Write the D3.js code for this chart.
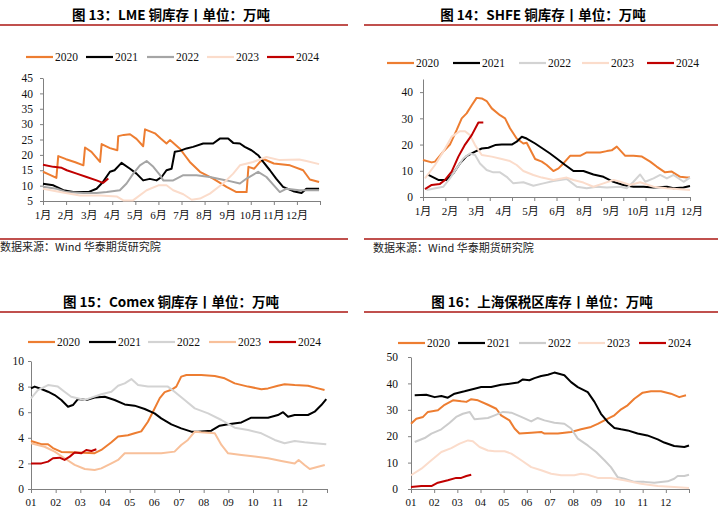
<!DOCTYPE html>
<html><head><meta charset="utf-8">
<script src="https://cdn.jsdelivr.net/npm/d3@7/dist/d3.min.js"></script>
<style>body{margin:0;background:#fff}</style>
</head><body><svg id="c" width="718" height="509"></svg>
<script>
// ---------- DATA ----------
const years = ["2020","2021","2022","2023","2024"];
const monthsCN = ["1月","2月","3月","4月","5月","6月","7月","8月","9月","10月","11月","12月"];
const shfeLabels = ["1月","2月","3月","4月","5月","6月","8月","9月","10月","11月","12月"];
const monthsNum = ["01","02","03","04","05","06","07","08","09","10","11","12"];

const lmeTicks = [5,10,15,20,25,30,35,40,45];
const shfeTicks = [0,10,20,30,40];
const comexTicks = [0,2,4,6,8,10];
const bondedTicks = [0,10,20,30,40,50];

// [month (0 = start of Jan), value in 万吨]
const lme2020 = [[0,14.5],[0.3,13.5],[0.58,12.5],[0.66,19.6],[1.0,18.6],[1.4,17.6],[1.75,16.6],[1.82,22.4],[2.1,21],[2.47,17.7],[2.54,23.5],[2.9,22.2],[3.22,21.5],[3.26,26.1],[3.5,26.5],[3.77,26.7],[4.05,25.2],[4.34,22.8],[4.42,28.3],[4.85,27],[5.1,25.3],[5.35,23.7],[5.5,24.8],[5.93,22],[6.15,19.8],[6.36,17.7],[6.8,14.5],[7.37,12.3],[7.95,9.6],[8.38,7.9],[8.82,7.9],[8.9,16.1],[9.15,15.5],[9.4,17.7],[9.6,18.5],[10,17.2],[10.7,16.6],[11.27,15],[11.56,12],[11.96,11.2]];
const lme2021 = [[0,10.6],[0.45,10.1],[0.88,8.5],[1.31,7.9],[1.96,7.9],[2.32,9],[2.6,11.2],[2.9,14.5],[3.1,15],[3.4,17.4],[3.77,15.5],[4.05,13.9],[4.34,11.7],[4.63,12.2],[4.92,11.7],[5.14,12.8],[5.35,15],[5.57,15.5],[5.71,21],[5.93,21.3],[6.22,22.1],[6.5,22.6],[6.94,23.7],[7.37,23.7],[7.66,25.3],[8.02,25.3],[8.24,23.9],[8.53,23.7],[8.74,22.6],[9.03,21.5],[9.32,19.9],[9.54,17.7],[9.83,15],[10.1,12.3],[10.4,9.6],[10.84,8.2],[11.2,7.6],[11.41,9],[11.96,9]];
const lme2022 = [[0,9.6],[0.59,9],[1.02,7.9],[1.75,7.6],[2.32,7.6],[2.76,7.9],[3.33,8.5],[3.62,10.7],[3.91,13.9],[4.2,16.6],[4.49,18],[4.78,16.1],[5.07,13.4],[5.21,11.7],[5.64,11.7],[6.08,13.4],[6.65,13.4],[7.23,12.8],[7.95,11.7],[8.53,10.7],[8.82,12.3],[9.32,14.5],[9.68,12.8],[10,10.1],[10.26,7.9],[10.55,9],[11.1,8.5],[11.96,8.5]];
const lme2023 = [[0,9],[0.74,7.9],[1.6,6.8],[2.47,6.8],[3.19,6.5],[3.48,5.2],[3.9,5.2],[4.49,8.5],[5.0,10.1],[5.35,10.1],[5.64,8.5],[6.08,7.2],[6.44,5.4],[6.8,5.8],[7.23,7.4],[7.8,10.7],[8.24,13.9],[8.53,16.6],[9.1,17.7],[9.68,19.3],[10.26,18.3],[11.1,18.5],[11.41,18],[11.96,17]];
const lme2024 = [[0,16.8],[0.45,16.1],[0.81,15.8],[1.03,15],[1.46,13.9],[1.89,12.8],[2.32,11.7],[2.6,10.9],[2.83,12.3]];

const shfe2020 = [[0,14.1],[0.39,13.2],[0.54,13.5],[0.91,17.3],[1.21,20],[1.51,25.5],[1.74,30],[1.96,31.9],[2.19,35],[2.41,37.8],[2.64,37.6],[2.86,36.6],[3.09,33.8],[3.46,31.2],[3.69,30],[3.91,26.2],[4.21,22.3],[4.51,20.4],[4.66,20.7],[5.04,14.5],[5.34,13.5],[5.56,12.2],[5.86,9.9],[6.09,10.9],[6.31,12.8],[6.61,15.7],[7.06,15.7],[7.36,17],[7.96,17],[8.26,17.5],[8.48,17.8],[8.71,19.2],[9.09,15.7],[9.46,15.7],[9.84,15.4],[10.21,13.5],[10.5,11.6],[10.88,9.4],[11.18,9.7],[11.56,7.7],[11.86,7.4],[12,7.4]];
const shfe2021 = [[0.24,8.4],[0.69,6.5],[1.06,6.5],[1.36,9],[1.66,12.8],[1.96,15.6],[2.34,17.3],[2.64,18.5],[2.94,18.8],[3.24,19.8],[3.54,20],[3.99,20],[4.21,21.1],[4.44,23],[4.66,22.3],[5.04,20.4],[5.41,18.3],[5.71,16.6],[6.01,14.7],[6.39,12.2],[6.76,9.9],[7.21,9.9],[7.66,8.6],[8.11,7.7],[8.56,5.8],[9.01,4.6],[9.46,3.9],[9.91,3.9],[10.36,3.6],[10.96,3.9],[11.26,3.3],[11.71,3.6],[12,4.2]];
const shfe2022 = [[0.16,2.7],[0.91,3.9],[1.21,7.1],[1.51,10.9],[1.81,14.7],[2.11,16.6],[2.34,16],[2.56,12.8],[2.86,10.3],[3.16,9.4],[3.46,9.4],[3.76,7.7],[4.06,5.2],[4.51,5.6],[4.96,4.3],[5.41,5.2],[5.86,6.1],[6.46,6.9],[6.91,3.9],[7.36,3.3],[7.81,3.9],[8.26,3.6],[8.86,3.9],[9.16,3.3],[9.46,5.8],[9.76,8.6],[9.99,5.8],[10.36,7.1],[10.66,8.4],[10.96,7.1],[11.26,8.4],[11.71,5.8],[12,7.4]];
const shfe2023 = [[0.09,7.1],[0.54,12.2],[0.91,17.3],[1.29,23],[1.66,25.1],[1.89,25.1],[2.11,23.6],[2.34,19.8],[2.64,16],[3.09,15.4],[3.54,14.5],[3.91,13.7],[4.21,12.2],[4.51,9.9],[4.96,8.4],[5.34,7.4],[5.86,6.5],[6.46,7.4],[6.76,6.5],[7.21,5.5],[7.66,3.9],[8.11,5.2],[8.56,6.5],[8.86,5.8],[9.31,4.6],[9.76,5.6],[10.36,3.9],[10.96,3.3],[11.56,3],[12,2.7]];
const shfe2024 = [[0.09,3],[0.39,4.6],[0.76,5],[0.99,6.5],[1.29,9.7],[1.59,15.4],[1.89,20],[2.19,23.6],[2.49,28.4],[2.71,28.4]];

const comex2020 = [[0,3.75],[0.42,3.5],[0.69,3.5],[0.89,3.2],[1.23,2.9],[1.9,2.86],[2.58,2.8],[2.85,3.05],[3.26,3.65],[3.53,4.1],[3.93,4.2],[4.2,4.35],[4.47,4.5],[4.74,5.25],[4.95,6.05],[5.22,7.1],[5.42,7.57],[5.69,7.75],[5.89,8.0],[6.09,8.78],[6.3,8.9],[6.9,8.9],[7.45,8.83],[7.85,8.65],[8.26,8.25],[8.8,8],[9.34,7.8],[9.61,7.86],[10.01,8.07],[10.28,8.18],[10.69,8.12],[11.23,8.07],[11.64,7.86],[11.9,7.73]];
const comex2021 = [[0,7.86],[0.15,8],[0.42,7.81],[0.69,7.6],[0.96,7.34],[1.23,6.95],[1.5,6.43],[1.7,6.56],[1.9,7.03],[2.24,6.95],[2.58,7.14],[2.99,7.21],[3.39,6.95],[3.8,6.61],[4.2,6.51],[4.61,6.25],[5.01,5.91],[5.28,5.52],[5.69,5.05],[6.09,4.74],[6.5,4.48],[6.77,4.48],[7.31,4.56],[7.65,4.95],[7.99,5.05],[8.53,5.2],[8.93,5.57],[9.61,5.57],[10.01,5.78],[10.22,6],[10.42,5.65],[10.69,5.78],[11.23,5.78],[11.5,6.04],[11.77,6.56],[11.97,7.03]];
const comex2022 = [[0,7.08],[0.28,7.73],[0.69,8.12],[1.09,8],[1.36,7.6],[1.63,7.21],[2.18,6.95],[2.45,7.14],[2.85,7.4],[3.26,7.6],[3.53,8.07],[3.8,8.25],[4.07,8.59],[4.34,8.12],[4.74,8],[5.28,8],[5.55,8],[5.82,7.6],[6.23,6.95],[6.64,6.3],[7.18,5.91],[7.72,5.39],[8.26,4.79],[8.8,4.61],[9.34,4.35],[9.88,3.83],[10.28,3.57],[10.69,3.75],[11.09,3.65],[11.5,3.57],[11.97,3.49]];
const comex2023 = [[0,3.57],[0.55,3.3],[0.96,2.92],[1.36,2.4],[1.77,1.88],[2.18,1.56],[2.58,1.48],[2.85,1.61],[3.26,2],[3.53,2.27],[3.8,2.79],[4.2,2.79],[4.74,2.79],[5.28,2.79],[5.82,2.92],[6.09,3.44],[6.36,3.83],[6.64,4.48],[6.9,4.43],[7.45,4.35],[7.72,3.44],[7.99,2.79],[8.53,2.66],[9.07,2.53],[9.61,2.4],[10.15,2.19],[10.69,2],[10.85,2.27],[11.09,1.88],[11.3,1.56],[11.64,1.74],[11.91,1.88]];
const comex2024 = [[0,2],[0.42,2],[0.69,2.14],[0.89,2.4],[1.16,2.45],[1.36,2.27],[1.57,2.53],[1.77,2.86],[2.04,2.79],[2.24,3.05],[2.45,2.97],[2.65,3.1]];

const bonded2020 = [[0,24.7],[0.23,26.6],[0.52,27.3],[0.73,29.2],[1.16,29.8],[1.45,31.9],[1.81,33.6],[2.17,33.2],[2.39,33],[2.6,34],[2.89,33.6],[3.32,31.9],[3.68,30.4],[3.89,27.9],[4.25,26],[4.47,22.9],[4.68,21],[5.19,21.3],[5.62,21.6],[5.76,21],[6.34,21],[6.91,21.6],[7.34,22.6],[7.77,23.5],[8.06,24.7],[8.35,26],[8.78,27.9],[9.07,30.2],[9.35,31.7],[9.64,34.2],[10,36.5],[10.36,37],[10.79,37],[11.22,36.1],[11.58,34.8],[11.87,35.5]];
const bonded2021 = [[0.16,35.5],[0.66,35.7],[1.02,34.8],[1.31,35.2],[1.59,34.6],[1.88,36.1],[2.31,37],[2.74,38],[3.03,38.6],[3.46,38.6],[3.89,39.5],[4.18,39.8],[4.61,40.3],[4.83,41.5],[5.11,41.2],[5.33,42],[5.62,42.8],[5.91,43.3],[6.19,44.1],[6.62,43.1],[6.91,40.5],[7.2,38.6],[7.63,36.7],[7.92,33],[8.2,28.5],[8.49,25.4],[8.78,23.1],[9.07,22.6],[9.35,22.2],[9.78,21],[10.2,20.3],[10.65,18.8],[10.93,17.6],[11.36,16.3],[11.8,15.9],[12,16.5]];
const bonded2022 = [[0.16,17.8],[0.59,19.3],[0.88,21],[1.31,22.6],[1.67,25.1],[1.95,27.3],[2.24,28.5],[2.53,29.2],[2.74,26.4],[3.32,26.9],[3.61,27.9],[3.97,29.2],[4.33,28.9],[4.76,27.3],[5.19,25.6],[5.47,26.9],[5.76,26],[6.19,25.1],[6.62,24.7],[6.91,22.9],[7.2,19.1],[7.63,16.5],[7.99,14],[8.35,10.9],[8.63,8.3],[8.92,4.5],[9.21,3.9],[9.64,2.7],[10.07,2.7],[10.5,2.4],[11.08,2.9],[11.36,3.9],[11.51,4.9],[11.8,4.9],[12,5.4]];
const bonded2023 = [[0,5.2],[0.45,7.7],[0.88,10.9],[1.31,14],[1.74,15.5],[2.1,17.2],[2.46,18.4],[2.67,18.1],[2.96,15.9],[3.32,14.6],[3.61,14.3],[4.04,14.3],[4.33,13.4],[4.76,10.9],[5.19,8.3],[5.62,7.1],[6.05,5.8],[6.48,5.2],[7.05,5.2],[7.34,5.8],[7.63,5.4],[8.06,4.2],[8.63,4.2],[9.2,3.3],[9.93,2],[10.65,1.1],[11.36,0.8],[12,0.4]];
const bonded2024 = [[0,0.8],[0.45,1.1],[0.88,1.1],[1.16,2.4],[1.59,3.3],[1.95,4.2],[2.17,4.2],[2.39,4.9],[2.6,5.4]];

// ---------- DRAWING ----------
const svg = d3.select("#c");
svg.append("rect").attr("width",718).attr("height",509).attr("fill","#fff");
const RULE = "#C0504D";
const SERIF = "'Liberation Serif','Times New Roman','Noto Sans CJK SC',serif";
const CJK = "'Noto Sans CJK SC','Noto Sans',sans-serif";

function panel(cfg){
  const g = svg.append("g");
  // title
  g.append("text").attr("x",cfg.titleX).attr("y",cfg.titleY).attr("text-anchor","middle")
    .attr("font-family",CJK).attr("font-weight",700).attr("font-size",13.5).attr("fill","#000")
    .text(cfg.title);
  g.append("line").attr("x1",cfg.rule[0]).attr("x2",cfg.rule[1]).attr("y1",cfg.ruleY).attr("y2",cfg.ruleY)
    .attr("stroke",RULE).attr("stroke-width",2);
  // legend
  years.forEach((yr,i)=>{
    const lx = cfg.legendX[i];
    g.append("line").attr("x1",lx).attr("x2",lx+27).attr("y1",cfg.legendY).attr("y2",cfg.legendY)
      .attr("stroke",cfg.colors[i]).attr("stroke-width",2.2);
    g.append("text").attr("x",lx+29).attr("y",cfg.legendY+4).attr("font-family",SERIF)
      .attr("font-size",11.5).attr("fill","#111").text(yr);
  });
  const x = d3.scaleLinear().domain([0,12]).range(cfg.xRange);
  const y = d3.scaleLinear().domain(cfg.yDomain).range(cfg.yRange);
  // y axis
  const ya = g.append("g").attr("transform",`translate(${cfg.xRange[0]},0)`)
    .call(d3.axisLeft(y).tickValues(cfg.yTicks).tickSize(3).tickPadding(cfg.yPad).tickSizeOuter(0));
  ya.select(".domain").attr("stroke","#808080");
  ya.selectAll(".tick line").attr("stroke","#808080");
  ya.selectAll("text").attr("font-family",SERIF).attr("font-size",11.5).attr("fill","#111");
  // x axis
  const xa = g.append("g").attr("transform",`translate(0,${cfg.yRange[0]})`)
    .call(d3.axisBottom(x).tickValues(d3.range(0,13)).tickSize(4).tickFormat("").tickSizeOuter(0));
  xa.select(".domain").attr("stroke","#808080");
  xa.selectAll(".tick line").attr("stroke","#808080");
  const lp = cfg.labelScale || (i=>x(i));
  g.selectAll(null).data(cfg.xLabels).enter().append("text")
    .attr("x",(d,i)=>lp(i)).attr("y",cfg.xLabelY).attr("text-anchor","middle")
    .attr("font-family",SERIF).attr("font-size",11).attr("fill","#111").text(d=>d);
  // lines
  const line = d3.line().x(d=>x(d[0])).y(d=>y(d[1]));
  cfg.series.forEach((s,i)=>{
    g.append("path").datum(s).attr("d",line).attr("fill","none")
      .attr("stroke",cfg.colors[i]).attr("stroke-width",2).attr("stroke-linejoin","round");
  });
  if(cfg.source){
    g.append("line").attr("x1",cfg.rule[0]).attr("x2",cfg.rule[1]).attr("y1",cfg.srcRuleY).attr("y2",cfg.srcRuleY)
      .attr("stroke",RULE).attr("stroke-width",2);
    g.append("text").attr("x",cfg.srcX).attr("y",cfg.srcY).attr("font-family",CJK)
      .attr("font-size",11).attr("fill","#222").text("数据来源：Wind 华泰期货研究院");
  }
}

panel({
  title:"图 13：LME 铜库存丨单位：万吨", titleX:171, titleY:20, rule:[0,348], ruleY:25,
  legendX:[26,86,147,207,267], legendY:57,
  colors:["#ED7D31","#000000","#A5A5A5","#FBDCCB","#C00000"],
  xRange:[43,320], yRange:[201,78], yDomain:[5,45], yTicks:lmeTicks, yPad:7,
  xLabels:monthsCN, xLabelY:219,
  series:[lme2020,lme2021,lme2022,lme2023,lme2024],
  source:true, srcRuleY:239, srcX:0, srcY:251
});

const shfeLabelPos = d3.scalePoint().domain(d3.range(shfeLabels.length)).range([423,692]);
panel({
  title:"图 14：SHFE 铜库存丨单位：万吨", titleX:543, titleY:20, rule:[364,718], ruleY:25,
  legendX:[387,453,519,582,647], legendY:63,
  colors:["#ED7D31","#000000","#D3D3D3","#FBDCCB","#C00000"],
  xRange:[423,690], yRange:[197,79], yDomain:[0,45], yTicks:shfeTicks, yPad:7,
  xLabels:shfeLabels, xLabelY:214.5, labelScale:i=>shfeLabelPos(i),
  series:[shfe2020,shfe2021,shfe2022,shfe2023,shfe2024],
  source:true, srcRuleY:239, srcX:373, srcY:252
});

panel({
  title:"图 15：Comex 铜库存丨单位：万吨", titleX:171, titleY:307, rule:[0,348], ruleY:312,
  legendX:[28,89,148,209,269], legendY:342,
  colors:["#ED7D31","#000000","#D3D3D3","#F8C09A","#C00000"],
  xRange:[31,327], yRange:[489,361], yDomain:[0,10], yTicks:comexTicks, yPad:4,
  xLabels:monthsNum, xLabelY:506,
  series:[comex2020,comex2021,comex2022,comex2023,comex2024],
  source:false
});

panel({
  title:"图 16：上海保税区库存丨单位：万吨", titleX:542, titleY:307, rule:[364,718], ruleY:312,
  legendX:[398,458,519,578,639], legendY:343,
  colors:["#ED7D31","#000000","#CCCCCC","#FBDCCB","#C00000"],
  xRange:[411,689], yRange:[489,357], yDomain:[0,50], yTicks:bondedTicks, yPad:10,
  xLabels:monthsNum, xLabelY:506,
  series:[bonded2020,bonded2021,bonded2022,bonded2023,bonded2024],
  source:false
});
</script></body></html>
